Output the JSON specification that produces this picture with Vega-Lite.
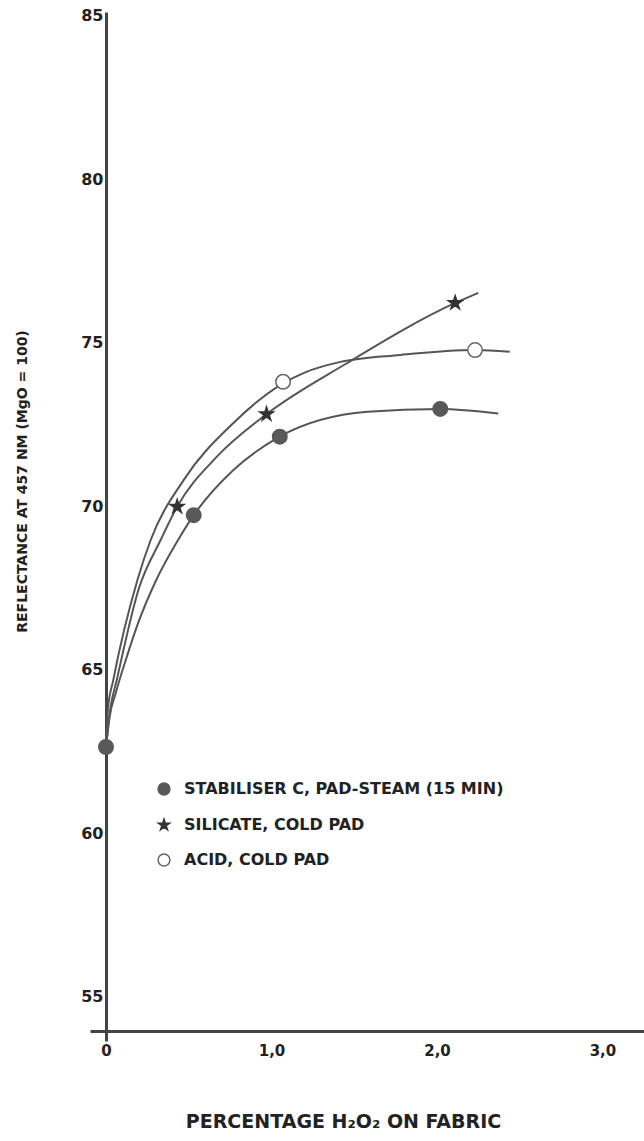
{
  "$schema": "https://vega.github.io/schema/vega-lite/v6.json",
  "autosize": {"type": "none"},
  "padding": {"left": 90, "top": 12, "right": 0, "bottom": 100},
  "width": 554,
  "height": 1029,
  "background": "white",
  "config": {
    "view": {"stroke": null},
    "font": "DejaVu Sans"
  },
  "datasets": {
    "curves": [
      {"series": "ACID, COLD PAD", "x": 0, "y": 62.63},
      {"series": "ACID, COLD PAD", "x": 0.012, "y": 63.8},
      {"series": "ACID, COLD PAD", "x": 0.044, "y": 64.68},
      {"series": "ACID, COLD PAD", "x": 0.19, "y": 67.74},
      {"series": "ACID, COLD PAD", "x": 0.27, "y": 68.96},
      {"series": "ACID, COLD PAD", "x": 0.47, "y": 70.8},
      {"series": "ACID, COLD PAD", "x": 0.77, "y": 72.54},
      {"series": "ACID, COLD PAD", "x": 1.07, "y": 73.75},
      {"series": "ACID, COLD PAD", "x": 1.2, "y": 74.08},
      {"series": "ACID, COLD PAD", "x": 1.41, "y": 74.4},
      {"series": "ACID, COLD PAD", "x": 1.78, "y": 74.62},
      {"series": "ACID, COLD PAD", "x": 2.23, "y": 74.77},
      {"series": "ACID, COLD PAD", "x": 2.44, "y": 74.72},
      {"series": "SILICATE, COLD PAD", "x": 0, "y": 62.63},
      {"series": "SILICATE, COLD PAD", "x": 0.025, "y": 63.76},
      {"series": "SILICATE, COLD PAD", "x": 0.065, "y": 64.68},
      {"series": "SILICATE, COLD PAD", "x": 0.2, "y": 67.5},
      {"series": "SILICATE, COLD PAD", "x": 0.33, "y": 68.96},
      {"series": "SILICATE, COLD PAD", "x": 0.43, "y": 69.98},
      {"series": "SILICATE, COLD PAD", "x": 0.67, "y": 71.51},
      {"series": "SILICATE, COLD PAD", "x": 0.97, "y": 72.81},
      {"series": "SILICATE, COLD PAD", "x": 1.45, "y": 74.35},
      {"series": "SILICATE, COLD PAD", "x": 2.11, "y": 76.21},
      {"series": "SILICATE, COLD PAD", "x": 2.25, "y": 76.52},
      {"series": "STABILISER C, PAD-STEAM (15 MIN)", "x": 0, "y": 62.63},
      {"series": "STABILISER C, PAD-STEAM (15 MIN)", "x": 0.02, "y": 63.5},
      {"series": "STABILISER C, PAD-STEAM (15 MIN)", "x": 0.06, "y": 64.3},
      {"series": "STABILISER C, PAD-STEAM (15 MIN)", "x": 0.12, "y": 65.3},
      {"series": "STABILISER C, PAD-STEAM (15 MIN)", "x": 0.2, "y": 66.5},
      {"series": "STABILISER C, PAD-STEAM (15 MIN)", "x": 0.3, "y": 67.7},
      {"series": "STABILISER C, PAD-STEAM (15 MIN)", "x": 0.44, "y": 69.0},
      {"series": "STABILISER C, PAD-STEAM (15 MIN)", "x": 0.53, "y": 69.72},
      {"series": "STABILISER C, PAD-STEAM (15 MIN)", "x": 0.77, "y": 71.1},
      {"series": "STABILISER C, PAD-STEAM (15 MIN)", "x": 1.05, "y": 72.12},
      {"series": "STABILISER C, PAD-STEAM (15 MIN)", "x": 1.58, "y": 72.88},
      {"series": "STABILISER C, PAD-STEAM (15 MIN)", "x": 2.02, "y": 72.97},
      {"series": "STABILISER C, PAD-STEAM (15 MIN)", "x": 2.37, "y": 72.83}
    ],
    "points": [
      {"series": "STABILISER C, PAD-STEAM (15 MIN)", "x": 0, "y": 62.63},
      {"series": "STABILISER C, PAD-STEAM (15 MIN)", "x": 0.53, "y": 69.72},
      {"series": "STABILISER C, PAD-STEAM (15 MIN)", "x": 1.05, "y": 72.12},
      {"series": "STABILISER C, PAD-STEAM (15 MIN)", "x": 2.02, "y": 72.97},
      {"series": "SILICATE, COLD PAD", "x": 0.43, "y": 69.98},
      {"series": "SILICATE, COLD PAD", "x": 0.97, "y": 72.81},
      {"series": "SILICATE, COLD PAD", "x": 2.11, "y": 76.21},
      {"series": "ACID, COLD PAD", "x": 1.07, "y": 73.8},
      {"series": "ACID, COLD PAD", "x": 2.23, "y": 74.77}
    ]
  },
  "encoding": {
    "x": {
      "field": "x",
      "type": "quantitative",
      "scale": {"domain": [-0.0967, 3.251], "nice": false, "zero": false},
      "axis": {
        "values": [0, 1, 2, 3],
        "labelExpr": "datum.value === 0 ? '0' : replace(format(datum.value, '.1f'), '.', ',')",
        "offset": -10,
        "grid": false,
        "ticks": false,
        "tickSize": 0,
        "domainColor": "#444",
        "domainWidth": 3,
        "labelFont": "DejaVu Sans",
        "labelFontWeight": "bold",
        "labelFontSize": 15,
        "labelColor": "#222",
        "labelPadding": 12,
        "labelBaseline": "top",
        "title": "PERCENTAGE H₂O₂  ON FABRIC",
        "titleFont": "DejaVu Sans",
        "titleFontWeight": "bold",
        "titleFontSize": 19,
        "titleColor": "#222",
        "titleX": 253,
        "titleY": 90,
        "titleAlign": "center",
        "titleBaseline": "middle",
        "titleAnchor": null
      }
    },
    "y": {
      "field": "y",
      "type": "quantitative",
      "scale": {"domain": [53.64, 85.107], "nice": false, "zero": false},
      "axis": {
        "values": [55, 60, 65, 70, 75, 80, 85],
        "offset": -16,
        "grid": false,
        "ticks": false,
        "tickSize": 0,
        "domainColor": "#444",
        "domainWidth": 3,
        "labelFont": "DejaVu Sans",
        "labelFontWeight": "bold",
        "labelFontSize": 16,
        "labelColor": "#222",
        "labelPadding": 3,
        "title": "REFLECTANCE AT 457 NM (MgO  =  100)",
        "titleFont": "DejaVu Sans",
        "titleFontWeight": "bold",
        "titleFontSize": 14,
        "titleColor": "#222",
        "titleAngle": -90,
        "titleX": -84,
        "titleY": 469,
        "titleAlign": "center",
        "titleBaseline": "middle",
        "titleAnchor": null
      }
    }
  },
  "layer": [
    {
      "data": {"name": "curves"},
      "mark": {"type": "line", "interpolate": "monotone", "color": "#555", "strokeWidth": 2},
      "encoding": {
        "detail": {"field": "series", "type": "nominal"}
      }
    },
    {
      "data": {"name": "points"},
      "mark": {"type": "point", "size": 210, "opacity": 1, "strokeWidth": 1.5},
      "encoding": {
        "shape": {
          "field": "series",
          "type": "nominal",
          "scale": {
            "domain": ["STABILISER C, PAD-STEAM (15 MIN)", "SILICATE, COLD PAD", "ACID, COLD PAD"],
            "range": ["circle", "M0,-1L0.2245,-0.309L0.9511,-0.309L0.3633,0.118L0.5878,0.809L0,0.382L-0.5878,0.809L-0.3633,0.118L-0.9511,-0.309L-0.2245,-0.309Z", "circle"]
          },
          "legend": {
            "title": null,
            "orient": "none",
            "legendX": 66,
            "legendY": 769,
            "padding": 0,
            "symbolSize": 140,
            "symbolStrokeWidth": 1.5,
            "labelFont": "DejaVu Sans",
            "labelFontWeight": "bold",
            "labelFontSize": 16,
            "labelColor": "#222",
            "labelOffset": 12,
            "rowPadding": 18,
            "labelLimit": 500
          }
        },
        "fill": {
          "field": "series",
          "type": "nominal",
          "scale": {
            "domain": ["STABILISER C, PAD-STEAM (15 MIN)", "SILICATE, COLD PAD", "ACID, COLD PAD"],
            "range": ["#595959", "#333333", "#ffffff"]
          },
          "legend": {
            "title": null,
            "orient": "none",
            "legendX": 66,
            "legendY": 769,
            "padding": 0,
            "symbolSize": 140,
            "symbolStrokeWidth": 1.5,
            "labelFont": "DejaVu Sans",
            "labelFontWeight": "bold",
            "labelFontSize": 16,
            "labelColor": "#222",
            "labelOffset": 12,
            "rowPadding": 18,
            "labelLimit": 500
          }
        },
        "stroke": {
          "field": "series",
          "type": "nominal",
          "scale": {
            "domain": ["STABILISER C, PAD-STEAM (15 MIN)", "SILICATE, COLD PAD", "ACID, COLD PAD"],
            "range": ["#595959", "#333333", "#666666"]
          },
          "legend": {
            "title": null,
            "orient": "none",
            "legendX": 66,
            "legendY": 769,
            "padding": 0,
            "symbolSize": 140,
            "symbolStrokeWidth": 1.5,
            "labelFont": "DejaVu Sans",
            "labelFontWeight": "bold",
            "labelFontSize": 16,
            "labelColor": "#222",
            "labelOffset": 12,
            "rowPadding": 18,
            "labelLimit": 500
          }
        }
      }
    }
  ]
}
